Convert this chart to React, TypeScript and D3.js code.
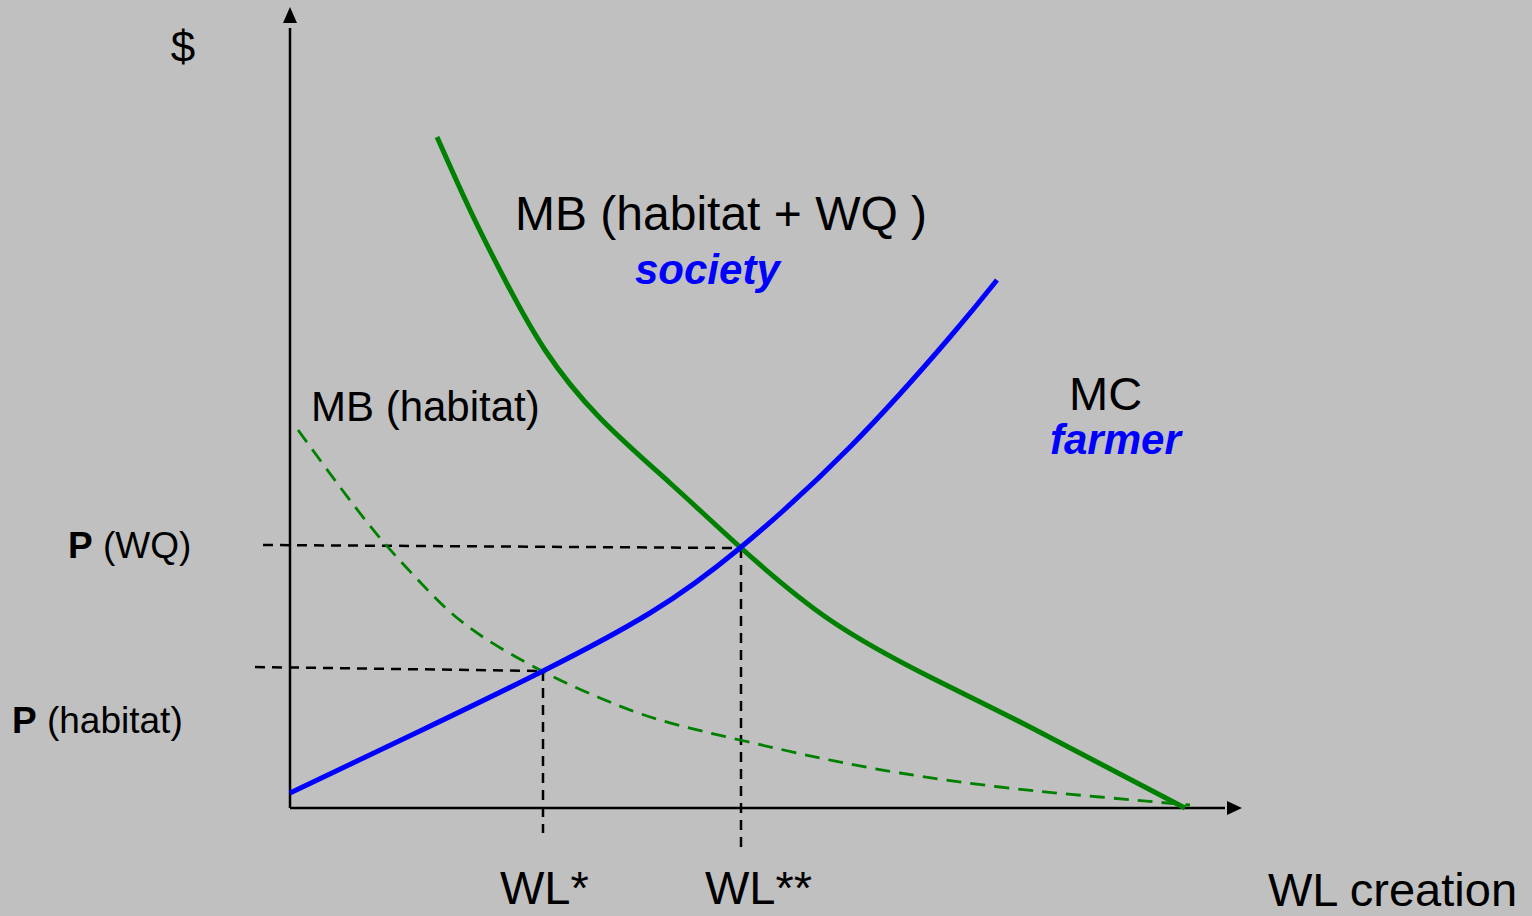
import React from "react";
import * as d3 from "d3";

const W = 1532;
const H = 916;

// Data units: x = quantity of wetland creation, y = $
const mbSocietyX = [147, 180, 215, 255, 310, 380, 450, 540, 640, 740, 895];
const mbSocietyY = [671, 598, 528, 458, 390, 325, 261, 188, 131, 81, 0];

const mcX = [0, 130, 253, 360, 450, 560, 660, 707];
const mcY = [15, 77, 137, 195, 260, 361, 471, 528];

const mbHabitatX = [8, 50, 90, 130, 180, 252, 310, 370, 450, 530, 610, 710, 810, 900];
const mbHabitatY = [378, 321, 270, 226, 180, 137, 110, 88, 68, 50, 35, 21, 11, 3];

const wlStar = 252;
const wlStarStar = 450;
const pHabitat = 137;
const pWQ = 260;

export default function App() {
  const x = d3.scaleLinear().domain([0, 950]).range([290, 1240]);
  const y = d3.scaleLinear().domain([0, 800]).range([808, 8]);

  const line = d3
    .line<[number, number]>()
    .x((d) => x(d[0]))
    .y((d) => y(d[1]))
    .curve(d3.curveNatural);

  const zip = (a: number[], b: number[]) => a.map((v, i) => [v, b[i]] as [number, number]);

  const font = "'Liberation Sans', Arial, Helvetica, sans-serif";

  return (
    <svg
      width={W}
      height={H}
      style={{ position: "absolute", left: 0, top: 0, display: "block", background: "#c0c0c0" }}
    >
      <rect x={0} y={0} width={W} height={H} fill="#c0c0c0" />

      {/* guide dashed lines */}
      <line x1={x(-27)} y1={y(pWQ) - 3} x2={x(wlStarStar)} y2={y(pWQ)} stroke="#000" strokeWidth={2.5} strokeDasharray="10,7" />
      <line x1={x(-35)} y1={y(pHabitat) - 4} x2={x(wlStar)} y2={y(pHabitat)} stroke="#000" strokeWidth={2.5} strokeDasharray="10,7" />
      <line x1={x(wlStar) + 1} y1={y(pHabitat)} x2={x(wlStar) + 1} y2={y(-25)} stroke="#000" strokeWidth={2.5} strokeDasharray="10,7" />
      <line x1={x(wlStarStar) + 1} y1={y(pWQ)} x2={x(wlStarStar) + 1} y2={y(-42)} stroke="#000" strokeWidth={2.5} strokeDasharray="10,7" />

      {/* axes */}
      <line x1={x(0)} y1={y(0)} x2={x(0)} y2={y(780)} stroke="#000" strokeWidth={2.5} />
      <path d={`M${x(0)},${y(800) - 1} L${x(0) - 7},${y(785)} L${x(0) + 7},${y(785)} Z`} fill="#000" />
      <line x1={x(0)} y1={y(0)} x2={x(935)} y2={y(0)} stroke="#000" strokeWidth={2.5} />
      <path d={`M${x(952)},${y(0)} L${x(937)},${y(0) - 7} L${x(937)},${y(0) + 7} Z`} fill="#000" />

      {/* curves */}
      <path d={line(zip(mbHabitatX, mbHabitatY)) || ""} fill="none" stroke="#008000" strokeWidth={2.8} strokeDasharray="15,9" />
      <path d={line(zip(mbSocietyX, mbSocietyY)) || ""} fill="none" stroke="#008000" strokeWidth={5} />
      <path d={line(zip(mcX, mcY)) || ""} fill="none" stroke="#0000ff" strokeWidth={5} />

      {/* labels */}
      <g fontFamily={font} fill="#000">
        <text x={183} y={62} fontSize={44} textAnchor="middle">$</text>
        <text x={515} y={230} fontSize={48}>MB (habitat + WQ )</text>
        <text x={635} y={284} fontSize={42} fontWeight="bold" fontStyle="italic" fill="#0000ff">society</text>
        <text x={311} y={421} fontSize={42}>MB (habitat)</text>
        <text x={1069} y={410} fontSize={47}>MC</text>
        <text x={1050} y={454} fontSize={42} fontWeight="bold" fontStyle="italic" fill="#0000ff">farmer</text>
        <text x={68} y={558} fontSize={37}>
          <tspan fontWeight="bold">P</tspan> (WQ)
        </text>
        <text x={12} y={733} fontSize={37}>
          <tspan fontWeight="bold">P</tspan> (habitat)
        </text>
        <text x={500} y={904} fontSize={47}>WL*</text>
        <text x={705} y={904} fontSize={47}>WL**</text>
        <text x={1268} y={906} fontSize={47}>WL creation</text>
      </g>
    </svg>
  );
}
